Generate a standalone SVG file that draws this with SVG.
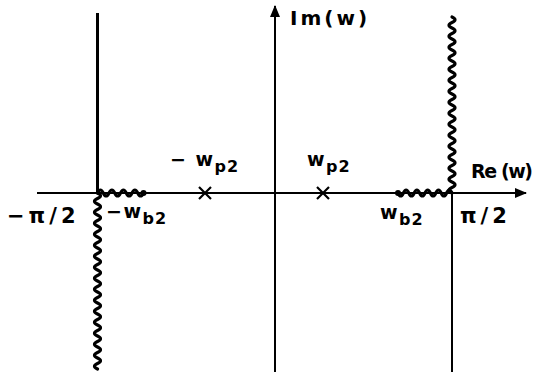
<svg xmlns="http://www.w3.org/2000/svg" width="540" height="374" viewBox="0 0 540 374">
<defs>
<style>
.ax{stroke:#000;stroke-width:2;fill:none}
.thick{stroke:#000;stroke-width:3;fill:none}
.wave{stroke:#000;stroke-width:3.2;fill:none;stroke-linejoin:round;stroke-linecap:round}
.cross{stroke:#000;stroke-width:2.2;fill:none}
text{font-family:"DejaVu Sans","Liberation Sans",sans-serif;font-weight:bold;fill:#000}
.lbl{font-size:19px;letter-spacing:1.5px}
.big{font-size:21px;letter-spacing:4px}
.sub{font-size:16px;letter-spacing:1px}
</style>
<marker id="arr" viewBox="0 0 12 10" refX="11" refY="5" markerWidth="12" markerHeight="10" markerUnits="userSpaceOnUse" orient="auto">
<path d="M0,0 L12,5 L0,10 Z" fill="#000"/>
</marker>
</defs>
<rect width="540" height="374" fill="#fff"/>
<g id="connectors">
<line id="re-axis" class="ax" x1="37" y1="193" x2="526" y2="193" marker-end="url(#arr)"/>
<line id="im-axis" class="ax" x1="275" y1="372" x2="275" y2="6" marker-end="url(#arr)"/>
<line id="left-line" class="thick" x1="97.5" y1="13" x2="97.5" y2="193"/>
<line id="right-line" class="ax" x1="452" y1="193" x2="452" y2="372"/>
<path id="left-cut-v" class="wave" d="M97.5,193 q6,2.75 0,5.5 t0,5.5 t0,5.5 t0,5.5 t0,5.5 t0,5.5 t0,5.5 t0,5.5 t0,5.5 t0,5.5 t0,5.5 t0,5.5 t0,5.5 t0,5.5 t0,5.5 t0,5.5 t0,5.5 t0,5.5 t0,5.5 t0,5.5 t0,5.5 t0,5.5 t0,5.5 t0,5.5 t0,5.5 t0,5.5 t0,5.5 t0,5.5 t0,5.5 t0,5.5 t0,5.5 t0,5.5"/>
<path id="right-cut-v" class="wave" d="M452,193 q-6,-2.75 0,-5.5 t0,-5.5 t0,-5.5 t0,-5.5 t0,-5.5 t0,-5.5 t0,-5.5 t0,-5.5 t0,-5.5 t0,-5.5 t0,-5.5 t0,-5.5 t0,-5.5 t0,-5.5 t0,-5.5 t0,-5.5 t0,-5.5 t0,-5.5 t0,-5.5 t0,-5.5 t0,-5.5 t0,-5.5 t0,-5.5 t0,-5.5 t0,-5.5 t0,-5.5 t0,-5.5 t0,-5.5 t0,-5.5 t0,-5.5 t0,-5.5 t0,-5.5"/>
<path id="left-cut-h" class="wave" d="M97.5,193 q2.9,-6 5.75,0 t5.75,0 t5.75,0 t5.75,0 t5.75,0 t5.75,0 t5.75,0 t5.75,0"/>
<path id="right-cut-h" class="wave" d="M398,193 q2.7,6 5.4,0 t5.4,0 t5.4,0 t5.4,0 t5.4,0 t5.4,0 t5.4,0 t5.4,0 t5.4,0 t5.4,0"/>
<circle cx="143.5" cy="193" r="3" fill="#000"/>
<circle cx="398" cy="193" r="3" fill="#000"/>
</g>
<g id="pole-neg">
<path class="cross" d="M199,187 L211,199 M211,187 L199,199"/>
<text class="lbl" x="170" y="166">− w<tspan class="sub" dy="6">p2</tspan></text>
</g>
<g id="pole-pos">
<path class="cross" d="M317,187 L329,199 M329,187 L317,199"/>
<text class="lbl" x="307" y="166">w<tspan class="sub" dy="6">p2</tspan></text>
</g>
<g id="branch-neg">
<text class="lbl" x="106" y="218">−w<tspan class="sub" dy="6">b2</tspan></text>
</g>
<g id="branch-pos">
<text class="lbl" x="380" y="219">w<tspan class="sub" dy="6">b2</tspan></text>
</g>
<g id="labels">
<text class="lbl" x="290" y="25" style="font-size:20px;letter-spacing:3px">Im(w)</text>
<text x="471" y="178" style="font-size:19px" textLength="62" lengthAdjust="spacing">Re (w)</text>
<text class="big" x="460" y="223">π/2</text>
<text class="big" x="7" y="223">−π/2</text>
</g>
</svg>
